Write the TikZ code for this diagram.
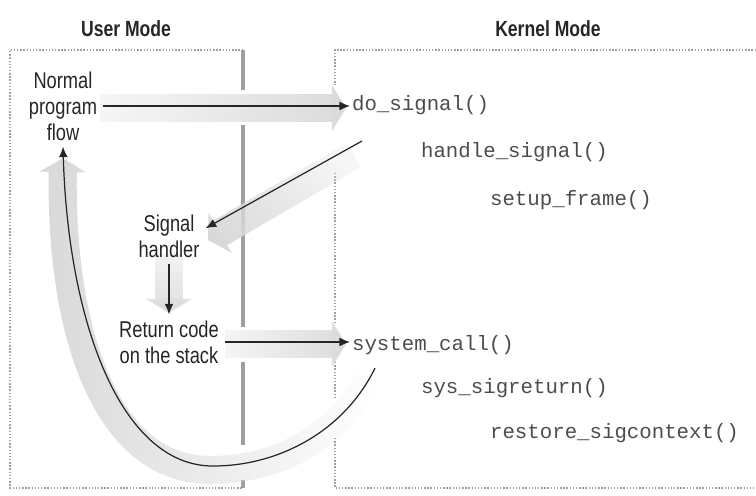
\documentclass[tikz,border=0pt]{standalone}
\usepackage{fontspec}
\setsansfont{Liberation Sans}[FakeStretch=0.8]
\setmonofont{Liberation Mono}
\usepackage{tikz}
\usetikzlibrary{arrows.meta}
\usetikzlibrary{positioning}
\usetikzlibrary{fadings}

\tikzfading[name=fadein, left color=transparent!80, right color=transparent!0]
\tikzfading[name=fadetail, left color=transparent!0, middle color=transparent!10, right color=transparent!100]

\begin{document}
\begin{tikzpicture}[x=0.02cm, y=-0.02cm, auto,
    usertext/.style={align=center, font=\sffamily\fontsize{13}{14.8}\selectfont, text=black!85},
    modetitle/.style={font=\sffamily\bfseries\fontsize{12.5}{14}\selectfont, text=black!85},
    kfunc/.style={anchor=west, inner sep=1pt, font=\ttfamily\fontsize{11.8}{13}\selectfont, text=black!70},
    modebox/.style={gray!75, line width=0.8pt, dash pattern=on 0.8pt off 1pt},
    boundary/.style={black!38, line width=2.6pt},
    thinflow/.style={-{Latex[length=6pt,width=5pt]}, line width=0.7pt, black!85},
    bigarrow/.style={gray!30, line width=16pt, -{Triangle[width=26pt,length=8pt]}, path fading=fadein}]

    \useasboundingbox (0,0) rectangle (756,495);

    % Mode frames (broken where the shaded arrows cross)
    \draw[modebox] (243,50) -- (10,50) -- (10,488) -- (243,488);
    \draw[modebox] (756,50) -- (335,50) -- (335,85);
    \draw[modebox] (335,173) -- (335,322);
    \draw[modebox] (335,362) -- (335,397);
    \draw[modebox] (335,438) -- (335,488) -- (756,488);
    \draw[boundary] (243,50) -- (243,90);
    \draw[boundary] (243,125) -- (243,327);
    \draw[boundary] (243,362) -- (243,445);
    \draw[boundary] (243,480) -- (243,488);

    % Titles
    \node[modetitle] (userMode) at (126,29) {User Mode};
    \node[modetitle] (kernelMode) at (548,29) {Kernel Mode};

    % Shaded arrows (background)
    \draw[bigarrow] (100,108) -- (346,108);
    \draw[bigarrow, fading angle=211] (354,155) -- (208,240);
    \draw[bigarrow, fading angle=270] (169,254) -- (169,313);
    \draw[bigarrow] (225,344) -- (346,344);
    \draw[bigarrow, path fading=fadetail] (368,380) .. controls (335,440) and (275,470) .. (210,470) .. controls (105,470) and (60,330) .. (63,158);

    % User side
    \node[usertext] (normal) at (63,106) {Normal\\program\\flow};
    \node[usertext] (sigHandler) at (169,236) {Signal\\handler};
    \node[usertext, below of=sigHandler, node distance=2.12cm] (retCode) {Return code\\on the stack};

    % Kernel side
    \node[kfunc] (doSignal) at (350,105) {do\_signal()};
    \node[kfunc] (handleSignal) at (419,152) {handle\_signal()};
    \node[kfunc] (setupFrame) at (488,200) {setup\_frame()};
    \node[kfunc] (sysCall) at (350,345) {system\_call()};
    \node[kfunc] (sysSigreturn) at (419,388) {sys\_sigreturn()};
    \node[kfunc] (restoreCtx) at (488,433) {restore\_sigcontext()};

    \coordinate (dsOut) at (362,141);
    \coordinate (scOut) at (375,368);

    % Connections (Arrows)
    \draw[thinflow] (normal.east) -- (normal.east -| doSignal.west);
    \draw[thinflow] (dsOut) -- (sigHandler.12);
    \draw[thinflow] (sigHandler) -- (retCode);
    \draw[thinflow] (retCode.east) -- (retCode.east -| sysCall.west);
    \draw[thinflow] (scOut) .. controls (345,430) and (280,466) .. (213,466) .. controls (120,466) and (68,320) .. (normal.south);

\end{tikzpicture}
\end{document}
